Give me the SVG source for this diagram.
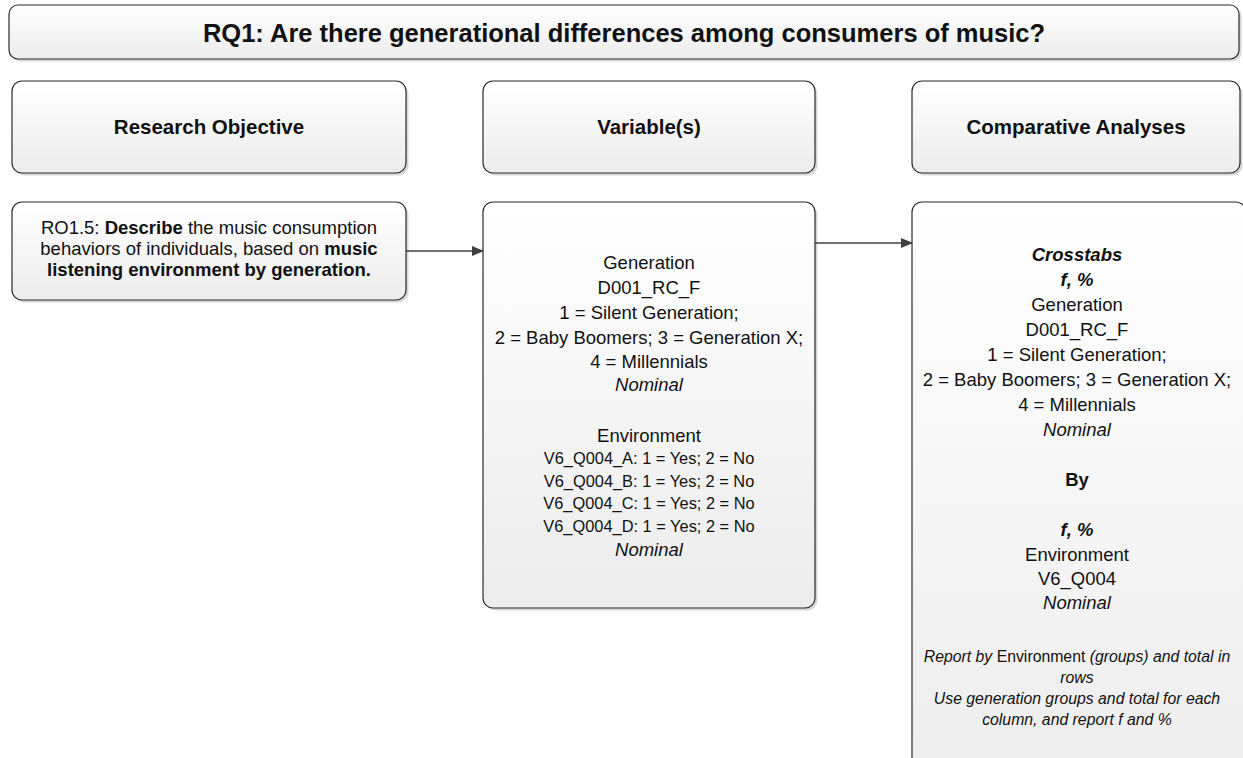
<svg xmlns="http://www.w3.org/2000/svg" width="1243" height="758" viewBox="0 0 1243 758">
<defs>
<linearGradient id="g" x1="0" y1="0" x2="0" y2="1">
<stop offset="0" stop-color="#ffffff"/>
<stop offset="1" stop-color="#ececec"/>
</linearGradient>
<marker id="arr" markerWidth="12" markerHeight="10" refX="11" refY="5" orient="auto" markerUnits="userSpaceOnUse">
<path d="M0,0 L12,5 L0,10 Z" fill="#404040"/>
</marker>
</defs>
<style>
.box{fill:url(#g);stroke:#2b2b2b;stroke-width:1.2}
.sh{fill:#b8b8b8;opacity:0.55}
text{font-family:"Liberation Sans",Arial,sans-serif;fill:#111;text-anchor:middle}
.t{font-size:25.5px;font-weight:bold}
.h{font-size:20.5px;font-weight:bold}
.b{font-size:18.5px}
.s{font-size:16.4px}
.r{font-size:15.8px;font-style:italic}
.bo{font-weight:bold}
.it{font-style:italic}
.bi{font-weight:bold;font-style:italic}
.n{font-style:normal}
.conn line{stroke:#404040;stroke-width:1.3;marker-end:url(#arr)}
</style>
<rect width="1243" height="758" fill="#ffffff"/>
<g id="title">
<rect class="sh" x="11.5" y="7.5" width="1230" height="54" rx="9"/>
<rect class="box" x="9" y="5" width="1230" height="54" rx="9"/>
<text class="t" x="624" y="42">RQ1: Are there generational differences among consumers of music?</text>
</g>
<g id="hdr-objective">
<rect class="sh" x="14.5" y="83.5" width="394" height="92" rx="10"/>
<rect class="box" x="12" y="81" width="394" height="92" rx="10"/>
<text class="h" x="209" y="134">Research Objective</text>
</g>
<g id="hdr-variables">
<rect class="sh" x="485.5" y="83.5" width="332" height="92" rx="10"/>
<rect class="box" x="483" y="81" width="332" height="92" rx="10"/>
<text class="h" x="649" y="134">Variable(s)</text>
</g>
<g id="hdr-analyses">
<rect class="sh" x="914.5" y="83.5" width="328" height="92" rx="10"/>
<rect class="box" x="912" y="81" width="328" height="92" rx="10"/>
<text class="h" x="1076" y="134">Comparative Analyses</text>
</g>
<g id="objective">
<rect class="sh" x="14.5" y="204.5" width="394" height="98" rx="10"/>
<rect class="box" x="12" y="202" width="394" height="98" rx="10"/>
<text class="b" x="209" y="233.5">RO1.5: <tspan class="bo">Describe</tspan> the music consumption</text>
<text class="b" x="209" y="254.5">behaviors of individuals, based on <tspan class="bo">music</tspan></text>
<text class="b bo" x="209" y="275.5">listening environment by generation.</text>
</g>
<g id="variables">
<rect class="sh" x="485.5" y="204.5" width="332" height="406" rx="10"/>
<rect class="box" x="483" y="202" width="332" height="406" rx="10"/>
<text class="b" x="649" y="268.5">Generation</text>
<text class="b" x="649" y="293.5">D001_RC_F</text>
<text class="b" x="649" y="318.5">1 = Silent Generation;</text>
<text class="b" x="649" y="343.5">2 = Baby Boomers; 3 = Generation X;</text>
<text class="b" x="649" y="367.5">4 = Millennials</text>
<text class="b it" x="649" y="391">Nominal</text>
<text class="b" x="649" y="441.5">Environment</text>
<text class="s" x="649" y="464">V6_Q004_A: 1 = Yes; 2 = No</text>
<text class="s" x="649" y="487">V6_Q004_B: 1 = Yes; 2 = No</text>
<text class="s" x="649" y="509">V6_Q004_C: 1 = Yes; 2 = No</text>
<text class="s" x="649" y="532">V6_Q004_D: 1 = Yes; 2 = No</text>
<text class="b it" x="649" y="555.5">Nominal</text>
</g>
<g id="analyses">
<rect class="sh" x="914.5" y="204.5" width="334" height="620" rx="10"/>
<rect class="box" x="912" y="202" width="334" height="620" rx="10"/>
<text class="b bi" x="1077" y="261">Crosstabs</text>
<text class="b bi" x="1077" y="286">f, %</text>
<text class="b" x="1077" y="311">Generation</text>
<text class="b" x="1077" y="336">D001_RC_F</text>
<text class="b" x="1077" y="361">1 = Silent Generation;</text>
<text class="b" x="1077" y="386">2 = Baby Boomers; 3 = Generation X;</text>
<text class="b" x="1077" y="411">4 = Millennials</text>
<text class="b it" x="1077" y="436">Nominal</text>
<text class="b bo" x="1077" y="486">By</text>
<text class="b bi" x="1077" y="536">f, %</text>
<text class="b" x="1077" y="561">Environment</text>
<text class="b" x="1077" y="585">V6_Q004</text>
<text class="b it" x="1077" y="609">Nominal</text>
<text class="r" x="1077" y="662">Report by<tspan class="n"> Environment </tspan>(groups) and total in</text>
<text class="r" x="1077" y="683">rows</text>
<text class="r" x="1077" y="704">Use generation groups and total for each</text>
<text class="r" x="1077" y="725">column, and report f and %</text>
</g>
<g id="connectors" class="conn">
<line x1="406" y1="251" x2="483" y2="251"/>
<line x1="815" y1="243" x2="912" y2="243"/>
</g>
</svg>
